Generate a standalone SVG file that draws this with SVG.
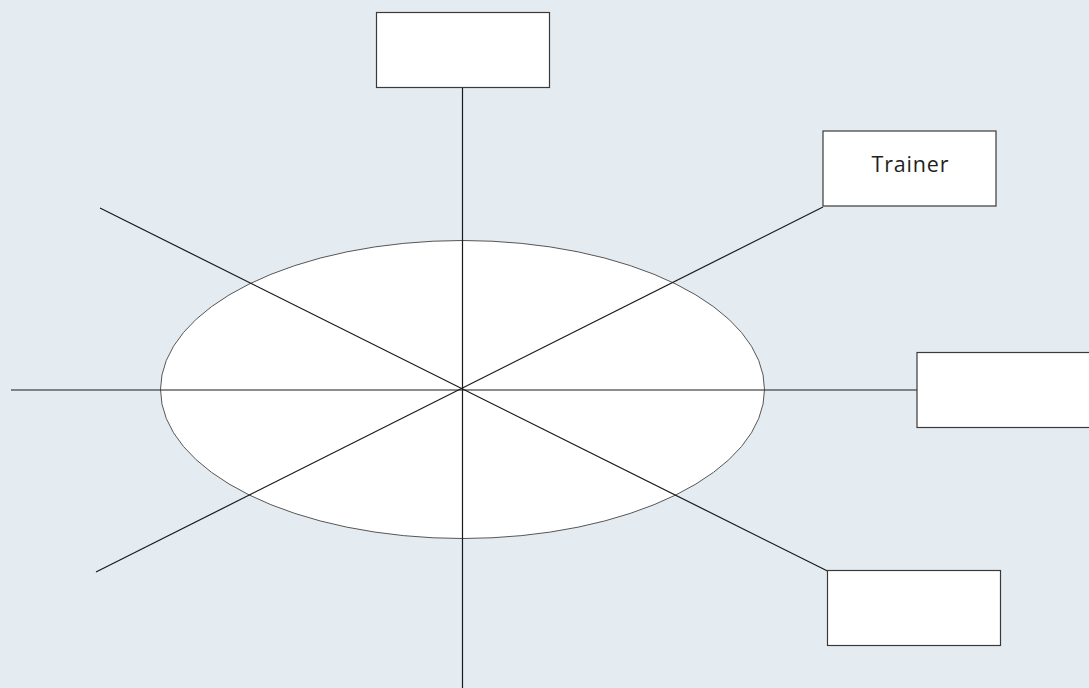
<svg xmlns="http://www.w3.org/2000/svg" width="1089" height="688" viewBox="0 0 1089 688">
<style>
.box{fill:#ffffff;stroke:#3a3a3a;stroke-width:1.2}
.ln{stroke:#1a1a1a;stroke-width:1.2;fill:none}
.lbl{font-family:"Open Sans","Liberation Sans",sans-serif;font-size:21.5px;fill:#231f20;text-anchor:middle}
</style>
<rect x="0" y="0" width="1089" height="688" fill="#e4ecf2"/>
<g id="hub">
<ellipse cx="462.5" cy="389.5" rx="302" ry="149" fill="#ffffff" stroke="#555555" stroke-width="1"/>
</g>
<g id="connectors">
<line class="ln" x1="462.5" y1="87.5" x2="462.5" y2="688"/>
<line class="ln" x1="11" y1="390" x2="917" y2="390"/>
<line class="ln" x1="100" y1="208" x2="827.5" y2="571"/>
<line class="ln" x1="96" y1="572" x2="823" y2="207"/>
</g>
<g id="node-top">
<rect class="box" x="376.5" y="12.5" width="173" height="75"/>
</g>
<g id="node-trainer">
<rect class="box" x="823" y="131" width="173" height="75"/>
<text class="lbl" x="910" y="171.5" textLength="77" lengthAdjust="spacing">Trainer</text>
</g>
<g id="node-right">
<rect class="box" x="917" y="352.5" width="180" height="75"/>
</g>
<g id="node-bottom">
<rect class="box" x="827.5" y="570.5" width="173" height="75"/>
</g>
</svg>
